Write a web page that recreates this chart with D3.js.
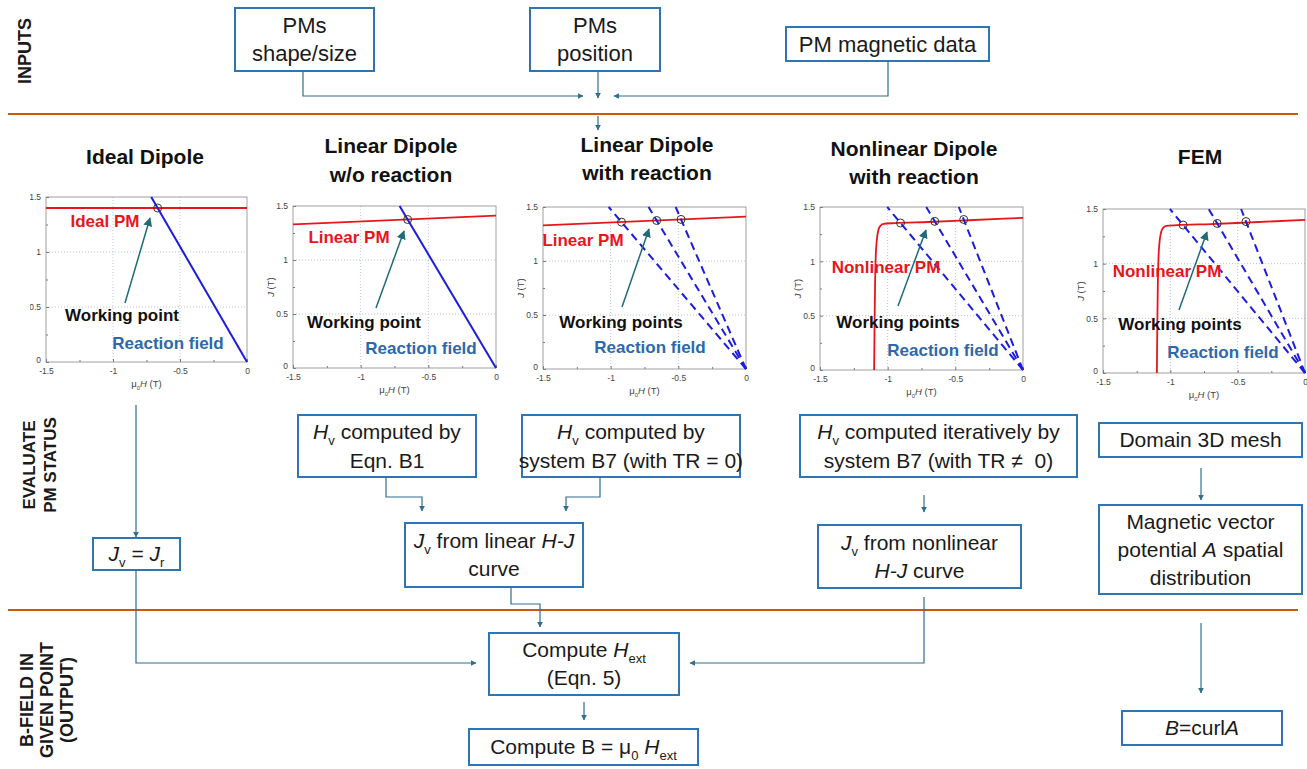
<!DOCTYPE html>
<html>
<head>
<meta charset="utf-8">
<script src="https://cdn.jsdelivr.net/npm/d3@7"></script>
<style>
  html, body { margin: 0; padding: 0; background: #fff; }
  svg { display: block; font-family: "Liberation Sans", Arial, sans-serif; }
  text { white-space: pre; }
</style>
</head>
<body>
<script>
// values (both axes in T)
const hTicks = [-1.5, -1, -0.5, 0];
const hMinor = [-1.25, -0.75, -0.25];
const jTicks = [0, 0.5, 1, 1.5];
const jMinor = [0.25, 0.75, 1.25];

const idealPM = [[-1.5, 1.40], [0, 1.40]];
const linearPM = [[-1.5, 1.33], [0, 1.41]];
const nonlinearPM = [[-1.10, 0], [-1.097, 0.4], [-1.093, 0.8], [-1.088, 1.05], [-1.08, 1.2],
  [-1.07, 1.28], [-1.055, 1.325], [-1.03, 1.345], [-0.95, 1.352], [-0.7, 1.362], [-0.4, 1.378], [0, 1.40]];

// working points (H, J)
const idealWP = [[-0.667, 1.40]];
const linearWP = [[-0.653, 1.375]];
const linearWPs = [[-0.92, 1.36], [-0.66, 1.375], [-0.48, 1.385]];
const nonlinearWPs = [[-0.905, 1.353], [-0.652, 1.368], [-0.438, 1.385]];

const W = 1307, H = 769;
const boxBlue = '#2e75b6', link = '#2f6f8c', orange = '#c55a11';
const red = '#e8161b', blue = '#1c1ce0', rfBlue = '#2d69aa', teal = '#1f6b78';

const svg = d3.select('body').append('svg').attr('width', W).attr('height', H);
svg.append('rect').attr('width', W).attr('height', H).attr('fill', '#fff');

const defs = svg.append('defs');
function marker(id, color, size) {
  defs.append('marker').attr('id', id).attr('viewBox', '0 0 10 10')
    .attr('refX', 9).attr('refY', 5).attr('markerUnits', 'userSpaceOnUse')
    .attr('markerWidth', size).attr('markerHeight', size).attr('orient', 'auto')
    .append('path').attr('d', 'M0,0 L10,5 L0,10 z').attr('fill', color);
}
marker('arr', link, 6);
marker('arrT', teal, 9);

// text with italic / subscript parts, centred on (cx, cy)
function rich(g, cx, cy, parts, size, opt = {}) {
  const t = g.append('text').attr('x', cx).attr('y', cy + size * 0.35)
    .attr('text-anchor', opt.anchor || 'middle').attr('font-size', size)
    .attr('fill', opt.fill || '#1a1a1a');
  if (opt.bold) t.attr('font-weight', 'bold');
  if (opt.rotate) t.attr('transform', `rotate(-90,${cx},${cy})`);
  let shift = 0;
  parts.forEach(p => {
    const [str, st] = typeof p === 'string' ? [p, ''] : p;
    const sub = st.includes('s');
    const ts = t.append('tspan').text(str);
    if (st.includes('i')) ts.attr('font-style', 'italic');
    const target = sub ? size * 0.28 : 0;
    if (target !== shift) { ts.attr('dy', target - shift); shift = target; }
    if (sub) ts.attr('font-size', size * 0.62);
  });
  return t;
}

// section separators
[114, 610].forEach(y => svg.append('line').attr('x1', 8).attr('x2', 1298)
  .attr('y1', y).attr('y2', y).attr('stroke', orange).attr('stroke-width', 2));

// left row labels
const side = svg.append('g');
rich(side, 25, 51, ['INPUTS'], 18, {bold: true, rotate: true});
rich(side, 29, 465, ['EVALUATE'], 17, {bold: true, rotate: true});
rich(side, 50, 465, ['PM STATUS'], 17, {bold: true, rotate: true});
rich(side, 27, 700, ['B-FIELD IN'], 18, {bold: true, rotate: true});
rich(side, 47, 700, ['GIVEN POINT'], 18, {bold: true, rotate: true});
rich(side, 67, 700, ['(OUTPUT)'], 18, {bold: true, rotate: true});

// column titles
const titles = [
  {x: 145, ys: [157], lines: ['Ideal Dipole']},
  {x: 391, ys: [146, 175], lines: ['Linear Dipole', 'w/o reaction']},
  {x: 647, ys: [145, 173], lines: ['Linear Dipole', 'with reaction']},
  {x: 914, ys: [149, 177], lines: ['Nonlinear Dipole', 'with reaction']},
  {x: 1200, ys: [157], lines: ['FEM']}
];
titles.forEach(d => d.lines.forEach((s, i) => rich(svg, d.x, d.ys[i], [s], 21, {bold: true, fill: '#111'})));

// small J-H charts
const charts = [
  {pm: idealPM, wps: idealWP, dashed: false, pmLabel: 'Ideal PM', wpLabel: 'Working point',
    l: 46, r: 247, t: 197, b: 362, clipL: 30,
    pmPos: [105, 221], wpPos: [122, 315], rfPos: [168, 343], arrow: [[125, 303], [150, 218]]},
  {pm: linearPM, wps: linearWP, dashed: false, pmLabel: 'Linear PM', wpLabel: 'Working point',
    l: 293, r: 496, t: 206, b: 368,
    pmPos: [349, 237], wpPos: [364, 322], rfPos: [421, 348], arrow: [[376, 308], [404, 231]]},
  {pm: linearPM, wps: linearWPs, dashed: true, pmLabel: 'Linear PM', wpLabel: 'Working points',
    l: 543, r: 746, t: 207, b: 369,
    pmPos: [583, 240], wpPos: [621, 322], rfPos: [650, 347], arrow: [[622, 307], [649, 229]]},
  {pm: nonlinearPM, wps: nonlinearWPs, dashed: true, pmLabel: 'Nonlinear PM', wpLabel: 'Working points',
    l: 820, r: 1023, t: 207, b: 370,
    pmPos: [886, 267], wpPos: [898, 322], rfPos: [943, 350], arrow: [[898, 306], [926, 230]]},
  {pm: nonlinearPM, wps: nonlinearWPs, dashed: true, pmLabel: 'Nonlinear PM', wpLabel: 'Working points',
    l: 1103, r: 1305, t: 209, b: 373,
    pmPos: [1167, 271], wpPos: [1180, 324], rfPos: [1223, 352], arrow: [[1179, 310], [1207, 232]]}
];

charts.forEach((c, ci) => {
  const x = d3.scaleLinear().domain([-1.5, 0]).range([c.l, c.r]);
  const y = d3.scaleLinear().domain([0, 1.5]).range([c.b, c.t]);
  const g = svg.append('g');
  if (c.clipL) {
    defs.append('clipPath').attr('id', 'clip' + ci).append('rect')
      .attr('x', c.clipL).attr('y', c.t - 12).attr('width', c.r - c.clipL + 10).attr('height', c.b - c.t + 40);
    g.attr('clip-path', `url(#clip${ci})`);
  }

  // dotted grid
  g.selectAll('.gx').data(hTicks.slice(1, -1)).join('line')
    .attr('x1', d => x(d)).attr('x2', d => x(d)).attr('y1', c.t).attr('y2', c.b)
    .attr('stroke', '#b9c4e6').attr('stroke-dasharray', '1,2');
  g.selectAll('.gy').data(jTicks.slice(1, -1)).join('line')
    .attr('y1', d => y(d)).attr('y2', d => y(d)).attr('x1', c.l).attr('x2', c.r)
    .attr('stroke', '#b9c4e6').attr('stroke-dasharray', '1,2');

  // axes with inward ticks
  const style = a => a.call(s => s.select('.domain').remove())
    .call(s => s.selectAll('line').attr('stroke', '#777'))
    .call(s => s.selectAll('text').attr('fill', '#444').attr('font-size', 8.5)
      .attr('font-family', '"Liberation Sans", Arial, sans-serif'));
  g.append('g').attr('transform', `translate(0,${c.b})`)
    .call(d3.axisBottom(x).tickValues(hTicks).tickFormat(d => String(d)).tickSizeInner(-3).tickSizeOuter(0).tickPadding(6))
    .call(style);
  g.append('g').attr('transform', `translate(0,${c.b})`)
    .call(d3.axisBottom(x).tickValues(hMinor).tickFormat('').tickSizeInner(-2).tickSizeOuter(0))
    .call(style);
  g.append('g').attr('transform', `translate(${c.l},0)`)
    .call(d3.axisLeft(y).tickValues(jTicks).tickFormat(d => String(d)).tickSizeInner(-3).tickSizeOuter(0).tickPadding(5))
    .call(style)
    .call(s => s.selectAll('.tick').filter(d => d === 0).select('text').attr('dy', '0.1em'));
  g.append('g').attr('transform', `translate(${c.l},0)`)
    .call(d3.axisLeft(y).tickValues(jMinor).tickFormat('').tickSizeInner(-2).tickSizeOuter(0))
    .call(style);

  g.append('rect').attr('x', c.l).attr('y', c.t).attr('width', c.r - c.l).attr('height', c.b - c.t)
    .attr('fill', 'none').attr('stroke', '#888').attr('stroke-width', 0.8);

  rich(g, (c.l + c.r) / 2, c.b + 22, [['μ', ''], ['0', 's'], ['H', 'i'], [' (T)', '']], 9.5, {fill: '#444'});
  rich(g, c.l - 22, (c.t + c.b) / 2, [['J', 'i'], [' (T)', '']], 9.5, {fill: '#444', rotate: true});

  // PM curve
  const line = d3.line().x(d => x(d[0])).y(d => y(d[1])).curve(d3.curveMonotoneX);
  g.append('path').datum(c.pm).attr('d', line).attr('fill', 'none')
    .attr('stroke', red).attr('stroke-width', 1.8);

  // reaction-field load lines from the origin through each working point
  g.selectAll('.rf').data(c.wps).join('line')
    .attr('x1', x(0)).attr('y1', y(0))
    .attr('x2', d => x(d[0] * 1.5 / d[1])).attr('y2', y(1.5))
    .attr('stroke', blue).attr('stroke-width', 2)
    .attr('stroke-dasharray', c.dashed ? '8,5' : null);

  g.selectAll('.wp').data(c.wps).join('circle')
    .attr('cx', d => x(d[0])).attr('cy', d => y(d[1])).attr('r', 4)
    .attr('fill', 'none').attr('stroke', '#333').attr('stroke-width', 1);

  rich(g, c.pmPos[0], c.pmPos[1], [c.pmLabel], 17, {bold: true, fill: red});
  rich(g, c.wpPos[0], c.wpPos[1], [c.wpLabel], 17, {bold: true, fill: '#111'});
  rich(g, c.rfPos[0], c.rfPos[1], ['Reaction field'], 17, {bold: true, fill: rfBlue});
  g.append('line').attr('x1', c.arrow[0][0]).attr('y1', c.arrow[0][1])
    .attr('x2', c.arrow[1][0]).attr('y2', c.arrow[1][1])
    .attr('stroke', teal).attr('stroke-width', 1.5).attr('marker-end', 'url(#arrT)');
});

// flow-chart boxes
const boxes = [
  {x: 235, y: 8, w: 139, h: 63, lh: 28, fs: 22, lines: [['PMs'], ['shape/size']]},
  {x: 530, y: 8, w: 130, h: 63, lh: 28, fs: 22, lines: [['PMs'], ['position']]},
  {x: 786, y: 27, w: 203, h: 34, lh: 28, fs: 22, lines: [['PM magnetic data']]},
  {x: 298, y: 415, w: 178, h: 62, lh: 29, lines: [[['H', 'i'], ['v', 's'], ' computed by'], ['Eqn. B1']]},
  {x: 522, y: 415, w: 218, h: 62, lh: 29, lines: [[['H', 'i'], ['v', 's'], ' computed by'], ['system B7 (with TR = 0)']]},
  {x: 800, y: 415, w: 277, h: 62, lh: 29, lines: [[['H', 'i'], ['v', 's'], ' computed iteratively by'], ['system B7 (with TR \u2260  0)']]},
  {x: 1099, y: 423, w: 203, h: 34, lh: 28, lines: [['Domain 3D mesh']]},
  {x: 93, y: 538, w: 87, h: 32, lh: 28, lines: [[['J', 'i'], ['v', 's'], ' = ', ['J', 'i'], ['r', 's']]]},
  {x: 405, y: 523, w: 178, h: 64, lh: 28, lines: [[['J', 'i'], ['v', 's'], ' from linear ', ['H-J', 'i']], ['curve']]},
  {x: 818, y: 525, w: 203, h: 63, lh: 28, lines: [[['J', 'i'], ['v', 's'], ' from nonlinear'], [['H-J', 'i'], ' curve']]},
  {x: 1099, y: 505, w: 203, h: 89, lh: 28, lines: [['Magnetic vector'], ['potential ', ['A', 'i'], ' spatial'], ['distribution']]},
  {x: 489, y: 633, w: 190, h: 62, lh: 28, lines: [['Compute ', ['H', 'i'], ['ext', 's']], ['(Eqn. 5)']]},
  {x: 469, y: 729, w: 229, h: 36, lh: 28, lines: [['Compute B = \u03bc', ['0', 's'], ' ', ['H', 'i'], ['ext', 's']]]},
  {x: 1122, y: 711, w: 160, h: 34, lh: 28, lines: [[['B', 'i'], '=curl', ['A', 'i']]]}
];
boxes.forEach(b => {
  svg.append('rect').attr('x', b.x).attr('y', b.y).attr('width', b.w).attr('height', b.h)
    .attr('fill', '#fff').attr('stroke', boxBlue).attr('stroke-width', 2);
  const n = b.lines.length;
  b.lines.forEach((ln, i) => rich(svg, b.x + b.w / 2, b.y + b.h / 2 + (i - (n - 1) / 2) * b.lh, ln, b.fs || 21));
});

// connectors
const links = [
  [[303, 71], [303, 96], [583, 96]],
  [[598, 71], [598, 98]],
  [[888, 61], [888, 96], [614, 96]],
  [[598, 116], [598, 130]],
  [[136, 405], [136, 537]],
  [[136, 570], [136, 663], [476, 663]],
  [[386, 477], [386, 497], [422, 497], [422, 511]],
  [[600, 477], [600, 497], [566, 497], [566, 511]],
  [[924, 495], [924, 512]],
  [[511, 587], [511, 604], [540, 604], [540, 627]],
  [[924, 597], [924, 663], [690, 663]],
  [[584, 702], [584, 720]],
  [[1201, 468], [1201, 500]],
  [[1201, 623], [1201, 693]]
];
svg.selectAll('.link').data(links).join('path')
  .attr('d', d => d3.line()(d)).attr('fill', 'none')
  .attr('stroke', link).attr('stroke-width', 1.2).attr('marker-end', 'url(#arr)');
</script>
</body>
</html>
